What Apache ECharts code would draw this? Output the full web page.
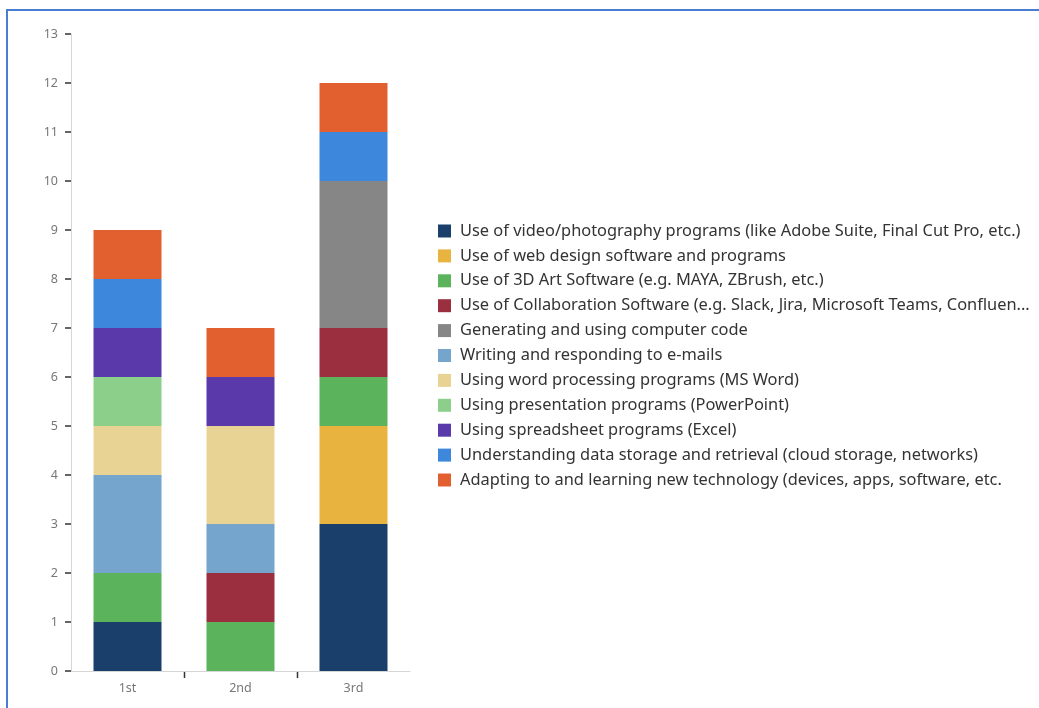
<!DOCTYPE html>
<html>
<head>
<meta charset="utf-8">
<script src="https://cdn.jsdelivr.net/npm/echarts@6/dist/echarts.min.js"></script>
<style>
  html, body { margin: 0; padding: 0; background: #fff; }
  #chart { width: 1039px; height: 708px; }
  #frame {
    position: absolute; left: 6px; top: 9px; width: 1039px; height: 708px;
    border-top: 2px solid #4a7dd2; border-left: 2px solid #4a7dd2;
    pointer-events: none;
  }
</style>
</head>
<body>
<div id="chart"></div>
<div id="frame"></div>
<script>
const categories = ['1st', '2nd', '3rd'];
const yTicks = [0, 13];

const seriesNames = [
  'Use of video/photography programs (like Adobe Suite, Final Cut Pro, etc.)',
  'Use of web design software and programs',
  'Use of 3D Art Software (e.g. MAYA, ZBrush, etc.)',
  'Use of Collaboration Software (e.g. Slack, Jira, Microsoft Teams, Confluence, etc.)',
  'Generating and using computer code',
  'Writing and responding to e-mails',
  'Using word processing programs (MS Word)',
  'Using presentation programs (PowerPoint)',
  'Using spreadsheet programs (Excel)',
  'Understanding data storage and retrieval (cloud storage, networks)',
  'Adapting to and learning new technology (devices, apps, software, etc.'
];

const videoPhoto   = [1, 0, 3];
const webDesign    = [0, 0, 2];
const art3d        = [1, 1, 1];
const collaboration= [0, 1, 1];
const computerCode = [0, 0, 3];
const emails       = [2, 1, 0];
const wordProc     = [1, 2, 0];
const presentation = [1, 0, 0];
const spreadsheet  = [1, 1, 0];
const dataStorage  = [1, 0, 1];
const adapting     = [1, 1, 1];

const seriesValues = [videoPhoto, webDesign, art3d, collaboration, computerCode,
  emails, wordProc, presentation, spreadsheet, dataStorage, adapting];

const colors = ['#1a3f6b', '#e8b33e', '#5bb35b', '#9b2f3f', '#868686',
  '#75a4cc', '#e9d394', '#8bcf8b', '#5a3aab', '#3d87dc', '#e2602f'];

const font = 'Noto Sans';

const chart = echarts.init(document.getElementById('chart'), null, { renderer: 'canvas' });

const option = {
  animation: false,
  color: colors,
  textStyle: { fontFamily: font },
  grid: { left: 71, right: 629, top: 34, bottom: 37, containLabel: false },
  legend: {
    orient: 'vertical',
    left: 433,
    top: 218,
    itemWidth: 13,
    itemHeight: 13,
    itemGap: 8.9,
    icon: 'rect',
    selectedMode: false,
    textStyle: {
      fontFamily: font, fontSize: 16.4, color: '#333', lineHeight: 13,
      padding: [0, 0, 0, 4], width: 575, overflow: 'truncate', ellipsis: '...'
    },
    data: seriesNames
  },
  xAxis: {
    type: 'category',
    data: categories,
    axisLine: { lineStyle: { color: '#d6d6d6', width: 1 } },
    axisTick: { show: false },
    axisLabel: { color: '#777', fontSize: 12.5, margin: 11, fontFamily: font }
  },
  yAxis: {
    type: 'value',
    min: yTicks[0],
    max: yTicks[1],
    interval: 1,
    axisLine: { show: true, lineStyle: { color: '#d6d6d6', width: 1 } },
    axisTick: { show: true, length: 6, lineStyle: { color: '#333', width: 1.5 } },
    splitLine: { show: false },
    axisLabel: { color: '#777', fontSize: 12.5, margin: 13, fontFamily: font }
  },
  series: seriesNames.map((name, i) => ({
    name: name,
    type: 'bar',
    stack: 'total',
    barWidth: 68,
    data: seriesValues[i].map(v => (v === 0 ? null : v))
  }))
};

chart.setOption(option);

// short ticks below the x axis, between neighbouring categories
const tickGraphics = [];
for (let i = 0; i < categories.length - 1; i++) {
  const a = chart.convertToPixel({ gridIndex: 0 }, [i, 0]);
  const b = chart.convertToPixel({ gridIndex: 0 }, [i + 1, 0]);
  const x = Math.round((a[0] + b[0]) / 2) + 0.5;
  tickGraphics.push({
    type: 'line',
    shape: { x1: x, y1: a[1] + 1, x2: x, y2: a[1] + 7 },
    style: { stroke: '#333', lineWidth: 1.5 }
  });
}
chart.setOption({ graphic: tickGraphics });
</script>
</body>
</html>
